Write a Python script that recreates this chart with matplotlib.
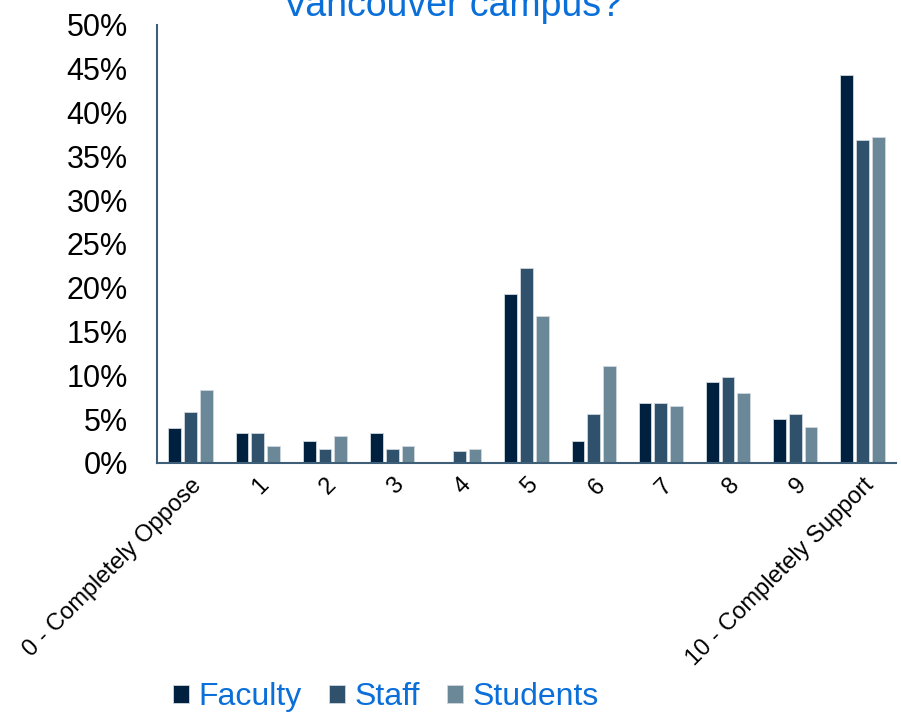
import numpy as np
import matplotlib.pyplot as plt
from matplotlib.ticker import PercentFormatter

categories = ['0 - Completely Oppose', '1', '2', '3', '4', '5', '6', '7', '8', '9',
              '10 - Completely Support']
faculty = [4.0, 3.4, 2.5, 3.4, 0.0, 19.3, 2.5, 6.8, 9.2, 5.0, 44.3]
staff = [5.8, 3.4, 1.6, 1.6, 1.4, 22.3, 5.6, 6.8, 9.8, 5.6, 36.9]
students = [8.3, 1.9, 3.1, 1.9, 1.6, 16.8, 11.1, 6.5, 8.0, 4.1, 37.2]

plt.rcParams['font.family'] = ['Liberation Sans', 'DejaVu Sans']
blue = '#0A6FD9'

fig = plt.figure(figsize=(9.01, 7.13), dpi=100)
ax = fig.add_axes([157 / 901, 1 - 463 / 713, (896 - 157) / 901, (463 - 25) / 713])

x = np.arange(len(categories))
w = 0.19
step = 0.235
ax.bar(x - step, faculty, w, color='#00203F', edgecolor='#D0D8DE', linewidth=0.6, label='Faculty')
ax.bar(x, staff, w, color='#2F516B', edgecolor='#D0D8DE', linewidth=0.6, label='Staff')
ax.bar(x + step, students, w, color='#6B8899', edgecolor='#D0D8DE', linewidth=0.6, label='Students')

ax.set_xlim(-0.5, len(categories) - 0.5)
ax.set_ylim(0, 50)
ax.set_yticks(np.arange(0, 51, 5))
ax.yaxis.set_major_formatter(PercentFormatter(decimals=0))
ax.tick_params(axis='y', length=0, labelsize=22, pad=21)
ax.tick_params(axis='x', length=0, labelsize=17, pad=8)
ax.set_xticks(x)
ax.set_xticklabels(categories, rotation=45, ha='right', rotation_mode='anchor')

for s in ['top', 'right']:
    ax.spines[s].set_visible(False)
for s in ['left', 'bottom']:
    ax.spines[s].set_color('#3F5F78')
    ax.spines[s].set_linewidth(1.5)

fig.text(0.502, 1 - 16 / 713, 'Vancouver campus?', color=blue, fontsize=27,
         ha='center', va='baseline')

fig.legend(loc='center', bbox_to_anchor=(386 / 901, 1 - 697 / 713), ncol=3, frameon=False,
           fontsize=23, labelcolor=blue, handlelength=0.5, handleheight=0.5,
           handletextpad=0.3, columnspacing=0.85)

fig.savefig('out.png', dpi=100)
